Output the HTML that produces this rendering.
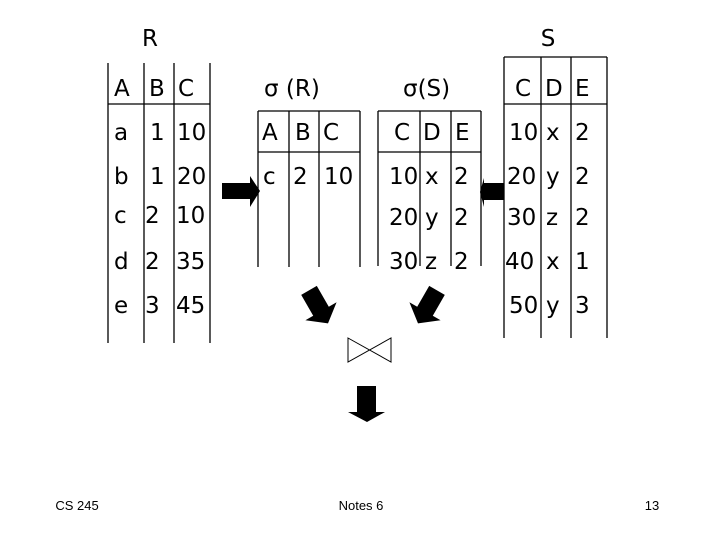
<!DOCTYPE html>
<html><head><meta charset="utf-8"><style>
html,body{margin:0;padding:0;background:#fff;}
svg{display:block;}
text{font-family:"DejaVu Sans","Liberation Sans",sans-serif;fill:#000;}
.t{font-size:23px;}
.f{font-size:13px;font-family:"Liberation Sans",sans-serif;}
</style></head><body>
<svg width="720" height="540" viewBox="0 0 720 540" xmlns="http://www.w3.org/2000/svg">
<g stroke="#000" stroke-width="1.3" fill="none">
<line x1="108" y1="63" x2="108" y2="343"/><line x1="144" y1="63" x2="144" y2="343"/>
<line x1="174" y1="63" x2="174" y2="343"/><line x1="210" y1="63" x2="210" y2="343"/>
<line x1="108" y1="104" x2="210" y2="104"/>
<line x1="258" y1="111" x2="258" y2="267"/><line x1="289" y1="111" x2="289" y2="267"/>
<line x1="319" y1="111" x2="319" y2="267"/><line x1="360" y1="111" x2="360" y2="267"/>
<line x1="258" y1="111" x2="360" y2="111"/><line x1="258" y1="152" x2="360" y2="152"/>
<line x1="378" y1="111" x2="378" y2="266"/><line x1="420" y1="111" x2="420" y2="266"/>
<line x1="451" y1="111" x2="451" y2="266"/><line x1="481" y1="111" x2="481" y2="266"/>
<line x1="378" y1="111" x2="481" y2="111"/><line x1="378" y1="152" x2="481" y2="152"/>
<line x1="504" y1="57" x2="504" y2="338"/><line x1="541" y1="57" x2="541" y2="338"/>
<line x1="571" y1="57" x2="571" y2="338"/><line x1="607" y1="57" x2="607" y2="338"/>
<line x1="504" y1="57" x2="607" y2="57"/><line x1="504" y1="104" x2="607" y2="104"/>
<path d="M348 338 L391 362 L391 338 L348 362 Z" stroke-width="1"/>
</g>
<g fill="#000">
<polygon points="222,183 250,183 250,176 260,191 250,207 250,199 222,199"/>
<polygon points="504,183 484,183 484,178 480,192 484,207 484,200 504,200"/>
<polygon points="367,422 348,412 357,412 357,386 376,386 376,412 385,412"/>
<g transform="translate(318,306) rotate(-30)"><polygon points="-9,-18 9,-18 9,6 18,6 0,20 -18,6 -9,6"/></g>
<g transform="translate(428,306) rotate(30)"><polygon points="-9,-18 9,-18 9,6 18,6 0,20 -18,6 -9,6"/></g>
</g>
<g class="t">
<text x="150" y="46" text-anchor="middle">R</text>
<text x="548" y="46" text-anchor="middle">S</text>
<text x="264" y="96">σ (R)</text>
<text x="403" y="96">σ(S)</text>
<text x="114" y="96">A</text><text x="149" y="96">B</text><text x="178" y="96">C</text>
<text x="114" y="140">a</text><text x="150" y="140">1</text><text x="177" y="140">10</text>
<text x="114" y="184">b</text><text x="150" y="184">1</text><text x="177" y="184">20</text>
<text x="114" y="223">c</text><text x="145" y="223">2</text><text x="176" y="223">10</text>
<text x="114" y="269">d</text><text x="145" y="269">2</text><text x="176" y="269">35</text>
<text x="114" y="313">e</text><text x="145" y="313">3</text><text x="176" y="313">45</text>
<text x="262" y="140">A</text><text x="295" y="140">B</text><text x="323" y="140">C</text>
<text x="263" y="184">c</text><text x="293" y="184">2</text><text x="324" y="184">10</text>
<text x="394" y="140">C</text><text x="423" y="140">D</text><text x="455" y="140">E</text>
<text x="389" y="184">10</text><text x="425" y="184">x</text><text x="454" y="184">2</text>
<text x="389" y="225">20</text><text x="425" y="225">y</text><text x="454" y="225">2</text>
<text x="389" y="269">30</text><text x="425" y="269">z</text><text x="454" y="269">2</text>
<text x="515" y="96">C</text><text x="545" y="96">D</text><text x="575" y="96">E</text>
<text x="509" y="140">10</text><text x="546" y="140">x</text><text x="575" y="140">2</text>
<text x="507" y="184">20</text><text x="546" y="184">y</text><text x="575" y="184">2</text>
<text x="507" y="225">30</text><text x="546" y="225">z</text><text x="575" y="225">2</text>
<text x="505" y="269">40</text><text x="546" y="269">x</text><text x="575" y="269">1</text>
<text x="509" y="313">50</text><text x="546" y="313">y</text><text x="575" y="313">3</text>
</g>
<text class="f" x="77" y="510" text-anchor="middle">CS 245</text>
<text class="f" x="361" y="510" text-anchor="middle">Notes 6</text>
<text class="f" x="652" y="510" text-anchor="middle">13</text>
</svg>
</body></html>
